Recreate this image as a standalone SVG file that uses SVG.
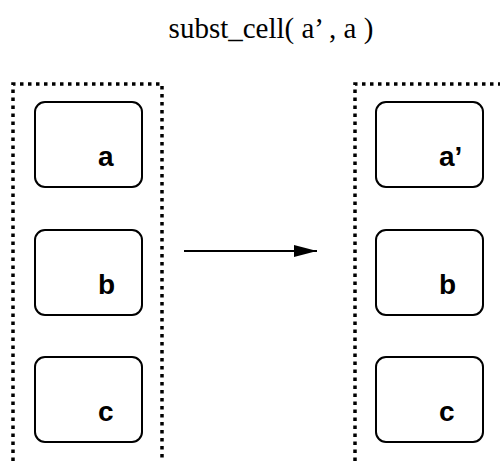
<svg xmlns="http://www.w3.org/2000/svg" width="500" height="461" viewBox="0 0 500 461">
<style>
.frame{fill:none;stroke:#000;stroke-width:3.5;stroke-dasharray:3.5 4.5}
.box{fill:#fff;stroke:#000;stroke-width:2}
.lbl{font-family:"Liberation Sans",Arial,sans-serif;font-weight:bold;font-size:28px;fill:#000}
.title{font-family:"Liberation Serif","Times New Roman",serif;font-size:29px;fill:#000}
</style>
<defs>
<marker id="ah" markerWidth="23" markerHeight="12" refX="23" refY="6" orient="auto" markerUnits="userSpaceOnUse">
<path d="M0,0 L23,6 L0,12 Z" fill="#000"/>
</marker>
</defs>
<text class="title" x="271" y="38" text-anchor="middle">subst_cell( a’ , a )</text>
<g id="left-frame"><path class="frame" d="M13,461 V84 H162 V461"/></g>
<g id="right-frame"><path class="frame" d="M355,461 V84 H500"/></g>
<g id="node-a"><rect class="box" x="35" y="102" width="107" height="85" rx="10"/><text class="lbl" x="98" y="166">a</text></g>
<g id="node-b"><rect class="box" x="35" y="230" width="107" height="85" rx="10"/><text class="lbl" x="98" y="294">b</text></g>
<g id="node-c"><rect class="box" x="35" y="357" width="107" height="85" rx="10"/><text class="lbl" x="98" y="421">c</text></g>
<g id="node-a2"><rect class="box" x="376" y="102" width="107" height="85" rx="10"/><text class="lbl" x="439" y="166">a’</text></g>
<g id="node-b2"><rect class="box" x="376" y="230" width="107" height="85" rx="10"/><text class="lbl" x="439" y="294">b</text></g>
<g id="node-c2"><rect class="box" x="376" y="357" width="107" height="85" rx="10"/><text class="lbl" x="439" y="421">c</text></g>
<g id="connectors"><line x1="184" y1="251" x2="317" y2="251" stroke="#000" stroke-width="2" marker-end="url(#ah)"/></g>
</svg>
